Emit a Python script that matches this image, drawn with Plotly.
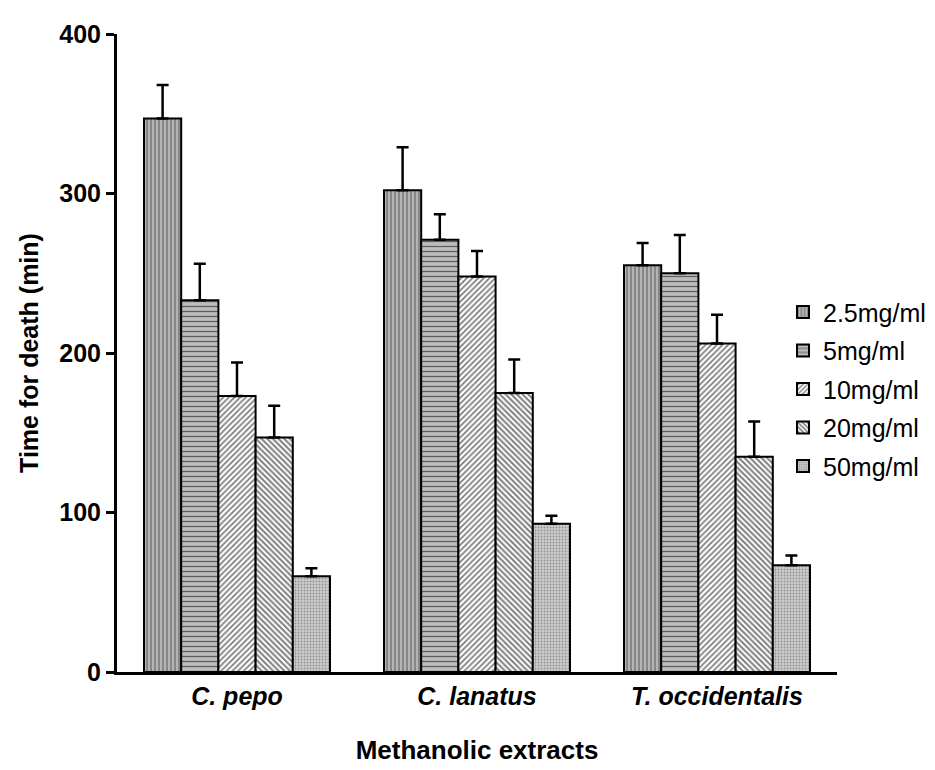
import plotly.graph_objects as go

categories = ["C. pepo", "C. lanatus", "T. occidentalis"]
series_names = ["2.5mg/ml", "5mg/ml", "10mg/ml", "20mg/ml", "50mg/ml"]
values = {
    "2.5mg/ml": [347, 302, 255],
    "5mg/ml": [233, 271, 250],
    "10mg/ml": [173, 248, 206],
    "20mg/ml": [147, 175, 135],
    "50mg/ml": [60, 93, 67],
}
errors = {
    "2.5mg/ml": [21, 27, 14],
    "5mg/ml": [23, 16, 24],
    "10mg/ml": [21, 16, 18],
    "20mg/ml": [20, 21, 22],
    "50mg/ml": [5, 5, 6],
}
y_ticks = [0, 100, 200, 300, 400]

patterns = [
    dict(shape="|", bgcolor="#b4b4b4", fgcolor="black", size=4, solidity=0.25),
    dict(shape="-", bgcolor="#bcbcbc", fgcolor="black", size=5, solidity=0.25),
    dict(shape="/", bgcolor="white", fgcolor="black", size=4, solidity=0.45),
    dict(shape="\\", bgcolor="white", fgcolor="black", size=4, solidity=0.5),
    dict(shape=".", bgcolor="#cccccc", fgcolor="#555555", size=3, solidity=0.3),
]

fig = go.Figure()
for i, name in enumerate(series_names):
    fig.add_trace(go.Bar(
        x=categories, y=values[name], name=name,
        legendgroup=name,
        marker=dict(color="white", pattern=patterns[i], line=dict(color="black", width=2)),
        error_y=dict(type="data", symmetric=False, array=errors[name],
                     arrayminus=[0] * len(categories), color="black", thickness=2.5, width=6),
    ))

fig.update_layout(
    width=935, height=770,
    paper_bgcolor="white", plot_bgcolor="white",
    margin=dict(l=109, r=106, t=20, b=106),
    barmode="group", bargap=0.225, bargroupgap=0,
    font=dict(family="Liberation Sans, Arial, sans-serif", color="black"),
    legend=dict(x=0.925, y=0.60, xanchor="left", yanchor="top",
                font=dict(size=25), tracegroupgap=3, bgcolor="rgba(0,0,0,0)",
                itemwidth=30),
    showlegend=True,
)
fig.update_xaxes(
    showline=True, linecolor="black", linewidth=3, ticks="",
    range=[-0.5, 2.5], showgrid=False,
    tickfont=dict(size=25, weight="bold", style="italic"),
    title=dict(text="<b>Methanolic extracts</b>", font=dict(size=26), standoff=32),
)
fig.update_yaxes(
    showline=True, linecolor="black", linewidth=3, ticks="outside", ticklen=8,
    tickwidth=3, tickcolor="black", range=[0, 400], tickvals=y_ticks,
    showgrid=False, zeroline=False,
    tickfont=dict(size=25, weight="bold"),
    title=dict(text="<b>Time for death (min)</b>", font=dict(size=25), standoff=14),
)
fig.write_html("out.html")
